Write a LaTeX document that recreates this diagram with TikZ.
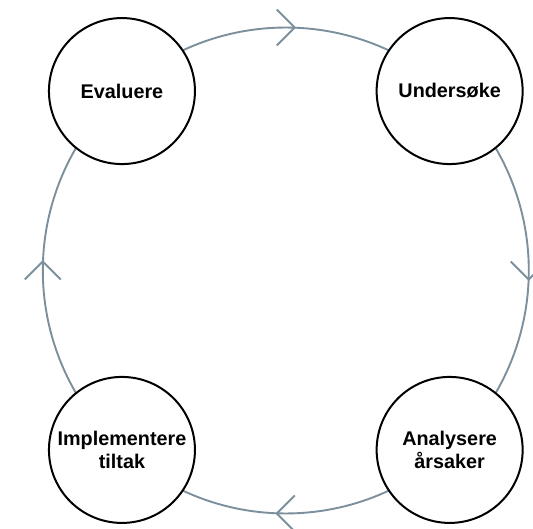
\documentclass[tikz,border=0pt]{standalone}
\usepackage{fontspec}
\setmainfont{Liberation Sans}
\usetikzlibrary{decorations.markings}
\pgfdeclarelayer{background}
\pgfsetlayers{background,main}
\definecolor{flowcol}{HTML}{7B8F9C}
\tikzset{
  stage/.style={circle, draw=black, line width=2pt, fill=white, minimum size=146pt, inner sep=0pt,
    align=center, font=\fontsize{19.8}{23.5}\selectfont\bfseries},
  flow/.style={draw=flowcol, line width=1.9pt,
    postaction={decorate, decoration={markings, mark=at position 0.5 with {
      \draw[flowcol, line width=1.9pt] (-9pt,18pt) -- (9pt,0pt) -- (-9pt,-18pt);}}}}
}
\begin{document}
\begin{tikzpicture}[x=1pt,y=1pt]
\useasboundingbox (0,0) rectangle (533,528);
\coordinate (C) at (285.8,257.5);
\node[stage] (E) at ([shift={(132.4:243)}]C) {Evaluere};
\node[stage] (U) at ([shift={(47.6:243)}]C) {Undersøke};
\node[stage] (A) at ([shift={(-47.6:243)}]C) {Analysere\\årsaker};
\node[stage] (I) at ([shift={(-132.4:243)}]C) {Implementere\\tiltak};
\begin{pgfonlayer}{background}
\draw[flow] (E.center) arc[start angle=132.4, end angle=47.6, radius=243];
\draw[flow] (U.center) arc[start angle=47.6, end angle=-47.6, radius=243];
\draw[flow] (A.center) arc[start angle=-47.6, end angle=-132.4, radius=243];
\draw[flow] (I.center) arc[start angle=-132.4, end angle=-227.6, radius=243];
\end{pgfonlayer}
\end{tikzpicture}
\end{document}
